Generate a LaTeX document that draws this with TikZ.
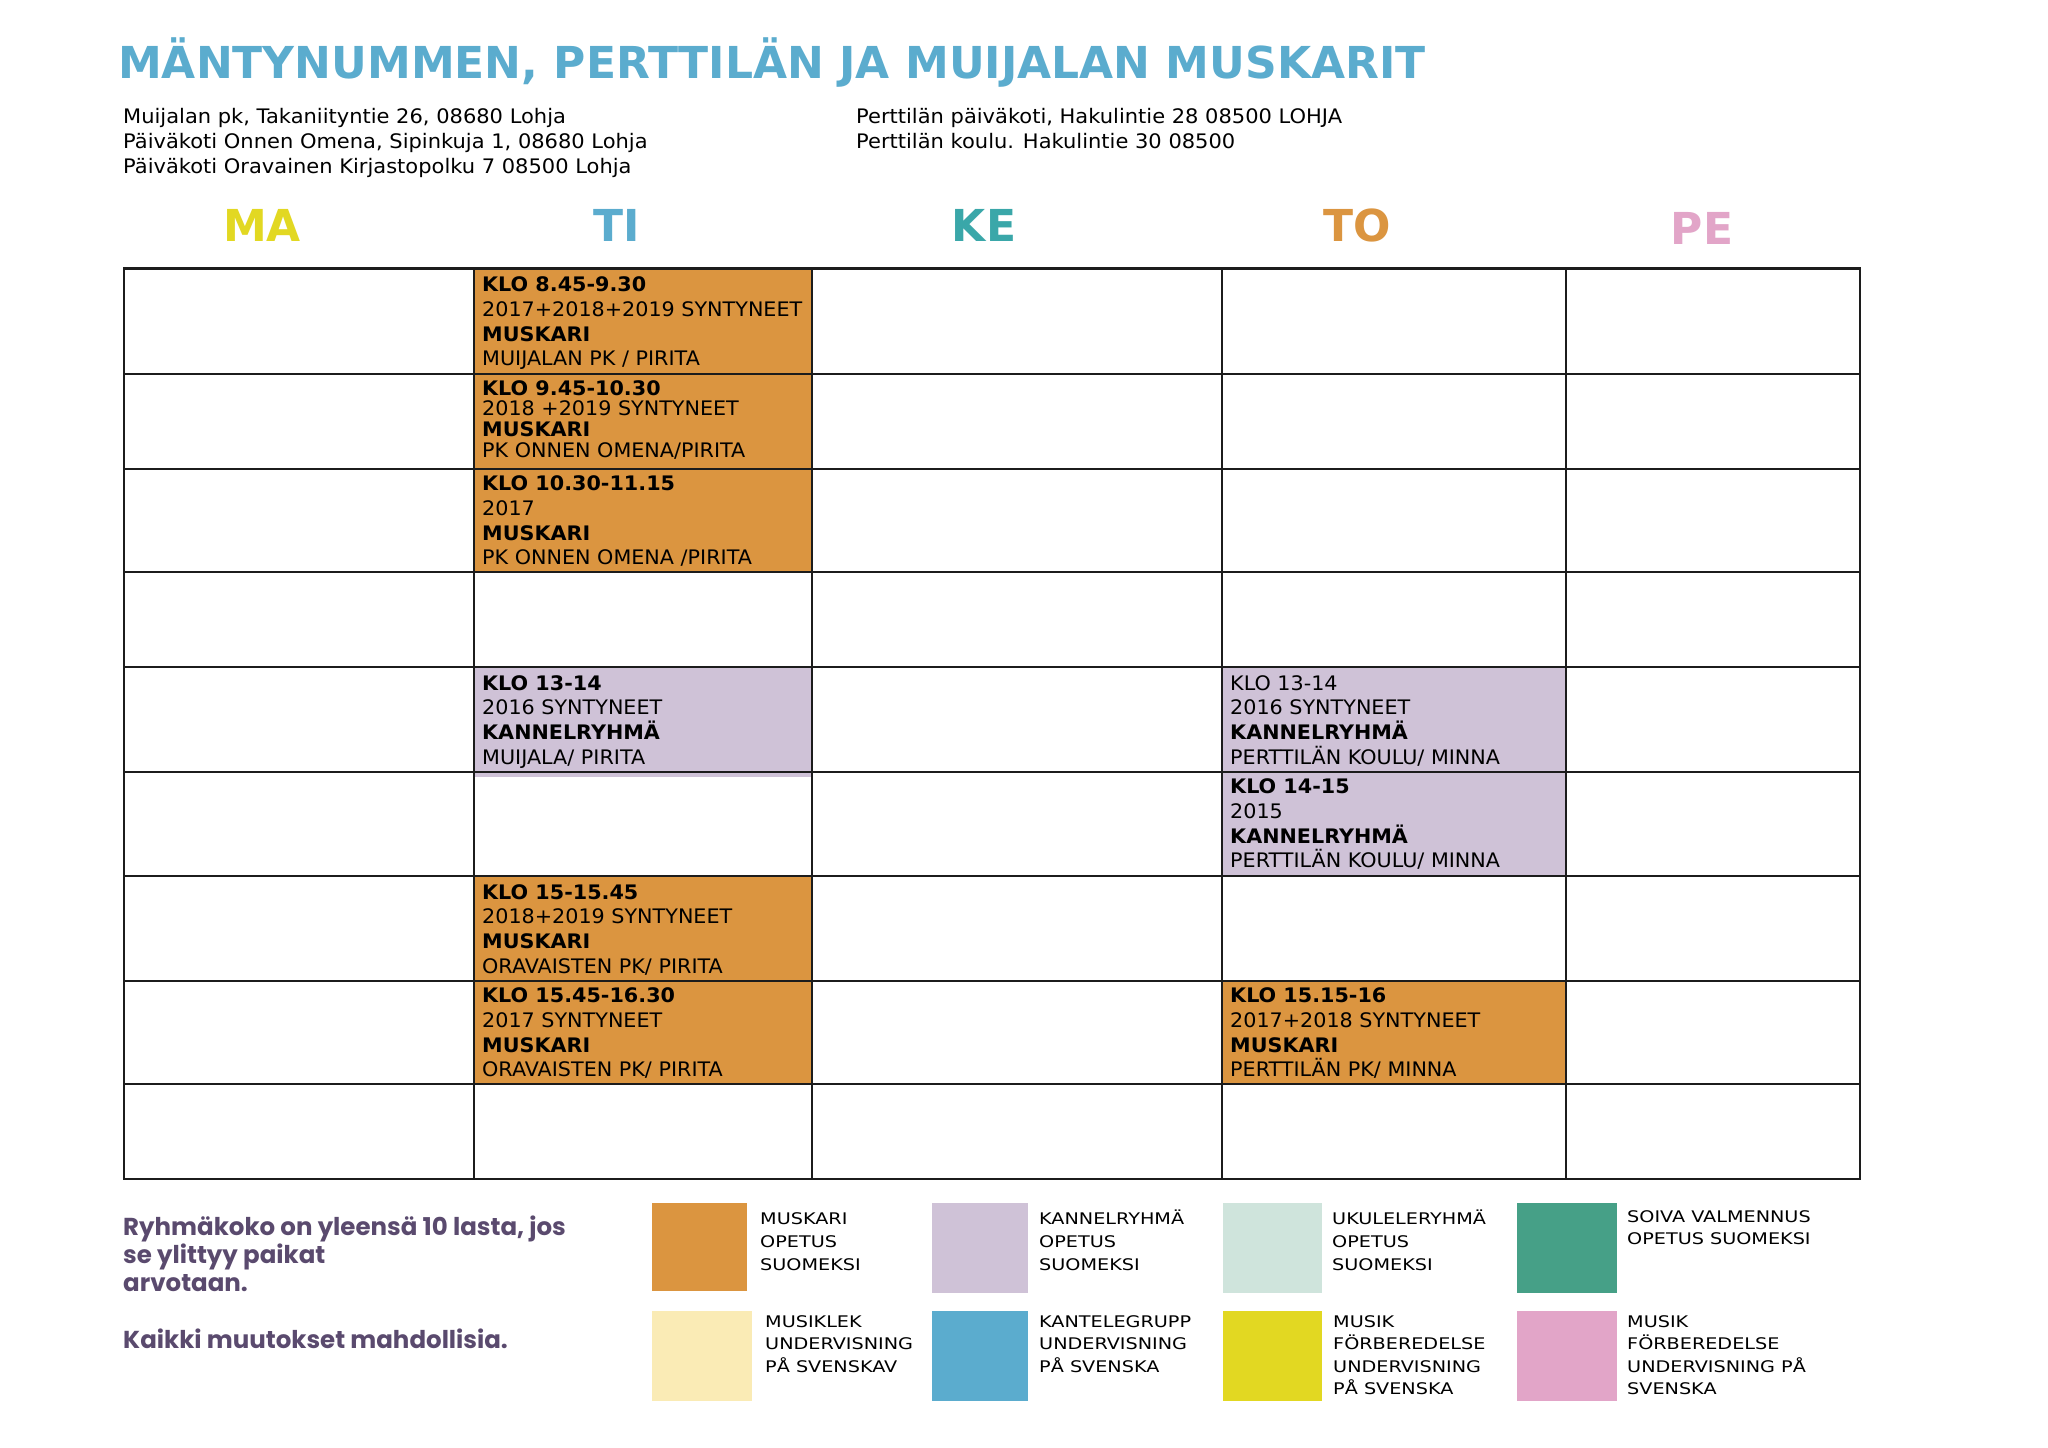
\documentclass[tikz,border=0pt]{standalone}
\usepackage{fontspec}
\setmainfont{DejaVu Sans}
\newfontfamily\cellfam[FakeStretch=1.035, BoldFeatures={FakeStretch=1.035}]{DejaVu Sans}
\newfontfamily\addrfam[FakeStretch=1.05]{DejaVu Sans}
\newfontfamily\legendfont[FakeStretch=1.2]{DejaVu Sans}
\newfontfamily\notefont{Poppins}
\definecolor{titleblue}{HTML}{5BACCE}
\definecolor{muskari}{HTML}{DB9540}
\definecolor{kannel}{HTML}{CFC2D7}
\definecolor{cream}{HTML}{FAEBB5}
\definecolor{mint}{HTML}{CFE4DC}
\definecolor{dayyellow}{HTML}{E2D822}
\definecolor{soiva}{HTML}{46A087}
\definecolor{pink}{HTML}{E2A5C8}
\definecolor{teal}{HTML}{3AA7A9}
\definecolor{notecol}{HTML}{5A4A6E}
\definecolor{gridcol}{HTML}{1C1C1C}
\newcommand\cellfont{\cellfam\fontsize{20}{24}\selectfont}
\newcommand\cellbold{\cellfam\fontsize{20}{24}\selectfont\bfseries}
\tikzset{
  celltxt/.style={anchor=base west, inner sep=0pt, font=\cellfont},
  cellbtxt/.style={anchor=base west, inner sep=0pt, font=\cellbold},
  addr/.style={anchor=base west, inner sep=0pt, font=\addrfam\fontsize{20}{24}\selectfont},
  dayhead/.style={anchor=base, inner sep=0pt, font=\fontsize{44}{50}\selectfont\bfseries},
  legtxt/.style={anchor=base west, inner sep=0pt, font=\legendfont\fontsize{16}{20}\selectfont},
  notetxt/.style={anchor=base west, inner sep=0pt, text=notecol, font=\notefont\bfseries\fontsize{24.5}{28}\selectfont},
  gridline/.style={draw=gridcol, line width=2pt}
}
\newcommand\cellfour[8]{%
  \node[cellbtxt] (#1a) at (#2,#3) {#5};
  \node[celltxt]  (#1b) at (#2,#3+#4) {#6};
  \node[cellbtxt] (#1c) at (#2,#3+2*#4) {#7};
  \node[celltxt]  (#1d) at (#2,#3+3*#4) {#8};}
\begin{document}
\begin{tikzpicture}[x=1pt,y=-1pt]
\useasboundingbox[fill=white] (0,0) rectangle (2048,1448);
% title
\node[anchor=base west, inner sep=0pt, text=titleblue, font=\fontsize{44}{50}\selectfont\bfseries] (title) at (118,78) {MÄNTYNUMMEN, PERTTILÄN JA MUIJALAN MUSKARIT};
% addresses
\node[addr] (ad1) at (123,123) {Muijalan pk, Takaniityntie 26, 08680 Lohja};
\node[addr] (ad2) at (123,148) {Päiväkoti Onnen Omena, Sipinkuja 1, 08680 Lohja};
\node[addr] (ad3) at (123,173) {Päiväkoti Oravainen Kirjastopolku 7 08500 Lohja};
\node[addr] (ad4) at (856,123) {Perttilän päiväkoti, Hakulintie 28 08500 LOHJA};
\node[addr] (ad5) at (856,148) {Perttilän koulu. Hakulintie 30 08500};
% day headings
\node[dayhead, text=dayyellow] (ma) at (262,241) {MA};
\node[dayhead, text=titleblue] (ti) at (617,241) {TI};
\node[dayhead, text=teal] (ke) at (984,241) {KE};
\node[dayhead, text=muskari] (to) at (1357,241) {TO};
\node[dayhead, text=pink] (pe) at (1702,244) {PE};
% cell fills
\fill[muskari] (474,269) rectangle (812,572);
\fill[kannel] (474,667) rectangle (812,777);
\fill[muskari] (474,876) rectangle (812,1084);
\fill[kannel] (1222,667) rectangle (1566,876);
\fill[muskari] (1222,980.5) rectangle (1566,1084);
% grid
\foreach \xx in {124,474,812,1222,1566,1860} {\draw[gridline] (\xx,268) -- (\xx,1180);}
\foreach \yy in {373.5,469,572,667,772,876,980.5,1084} {\draw[gridline] (123,\yy) -- (1861,\yy);}
\draw[gridline, line width=3pt] (123,268.5) -- (1861,268.5);
\draw[gridline] (123,1179) -- (1861,1179);
% cell texts
\cellfour{c1}{482}{291.7}{24.7}{KLO 8.45-9.30}{2017+2018+2019 SYNTYNEET}{MUSKARI}{MUIJALAN PK / PIRITA}
\cellfour{c2}{482}{395}{20.7}{KLO 9.45-10.30}{2018 +2019 SYNTYNEET}{MUSKARI}{PK ONNEN OMENA/PIRITA}
\cellfour{c3}{482}{490.7}{24.7}{KLO 10.30-11.15}{2017}{MUSKARI}{PK ONNEN OMENA /PIRITA}
\cellfour{c5}{482}{690}{24.7}{KLO 13-14}{2016 SYNTYNEET}{KANNELRYHMÄ}{MUIJALA/ PIRITA}
\cellfour{c7}{482}{899}{24.7}{KLO 15-15.45}{2018+2019 SYNTYNEET}{MUSKARI}{ORAVAISTEN PK/ PIRITA}
\cellfour{c8}{482}{1002.7}{24.7}{KLO 15.45-16.30}{2017 SYNTYNEET}{MUSKARI}{ORAVAISTEN PK/ PIRITA}
\node[celltxt]  (t5a) at (1230,690) {KLO 13-14};
\node[celltxt]  (t5b) at (1230,714.7) {2016 SYNTYNEET};
\node[cellbtxt] (t5c) at (1230,739.4) {KANNELRYHMÄ};
\node[celltxt]  (t5d) at (1230,764.1) {PERTTILÄN KOULU/ MINNA};
\cellfour{t6}{1230}{793.6}{24.7}{KLO 14-15}{2015}{KANNELRYHMÄ}{PERTTILÄN KOULU/ MINNA}
\cellfour{t8}{1230}{1002.7}{24.7}{KLO 15.15-16}{2017+2018 SYNTYNEET}{MUSKARI}{PERTTILÄN PK/ MINNA}
% note
\node[notetxt] (n1) at (123,1235) {Ryhmäkoko on yleensä 10 lasta, jos};
\node[notetxt] (n2) at (123,1263) {se ylittyy paikat};
\node[notetxt] (n3) at (123,1291) {arvotaan.};
\node[notetxt] (n4) at (123,1348) {Kaikki muutokset mahdollisia.};
% legend boxes
\fill[muskari] (652,1203) rectangle (747,1291);
\fill[kannel] (932,1203) rectangle (1028,1293);
\fill[mint] (1223,1203) rectangle (1322,1293);
\fill[soiva] (1517,1203) rectangle (1617,1293);
\fill[cream] (652,1311) rectangle (752,1401);
\fill[titleblue] (932,1311) rectangle (1028,1401);
\fill[dayyellow] (1223,1311) rectangle (1322,1401);
\fill[pink] (1517,1311) rectangle (1617,1401);
% legend texts
\node[legtxt] (l1a) at (760,1224) {MUSKARI};
\node[legtxt] (l1b) at (760,1247) {OPETUS};
\node[legtxt] (l1c) at (760,1270) {SUOMEKSI};
\node[legtxt] (l2a) at (1039,1224) {KANNELRYHMÄ};
\node[legtxt] (l2b) at (1039,1247) {OPETUS};
\node[legtxt] (l2c) at (1039,1270) {SUOMEKSI};
\node[legtxt] (l3a) at (1332,1224) {UKULELERYHMÄ};
\node[legtxt] (l3b) at (1332,1247) {OPETUS};
\node[legtxt] (l3c) at (1332,1270) {SUOMEKSI};
\node[legtxt] (l4a) at (1627,1222) {SOIVA VALMENNUS};
\node[legtxt] (l4b) at (1627,1244) {OPETUS SUOMEKSI};
\node[legtxt] (l5a) at (765,1327) {MUSIKLEK};
\node[legtxt] (l5b) at (765,1349.5) {UNDERVISNING};
\node[legtxt] (l5c) at (765,1372.5) {PÅ SVENSKAV};
\node[legtxt] (l6a) at (1039,1327) {KANTELEGRUPP};
\node[legtxt] (l6b) at (1039,1349.5) {UNDERVISNING};
\node[legtxt] (l6c) at (1039,1372.5) {PÅ SVENSKA};
\node[legtxt] (l7a) at (1333,1327) {MUSIK};
\node[legtxt] (l7b) at (1333,1349.5) {FÖRBEREDELSE};
\node[legtxt] (l7c) at (1333,1372) {UNDERVISNING};
\node[legtxt] (l7d) at (1333,1394.5) {PÅ SVENSKA};
\node[legtxt] (l8a) at (1627,1327) {MUSIK};
\node[legtxt] (l8b) at (1627,1349.5) {FÖRBEREDELSE};
\node[legtxt] (l8c) at (1627,1372) {UNDERVISNING PÅ};
\node[legtxt] (l8d) at (1627,1394.5) {SVENSKA};
\end{tikzpicture}
\end{document}
